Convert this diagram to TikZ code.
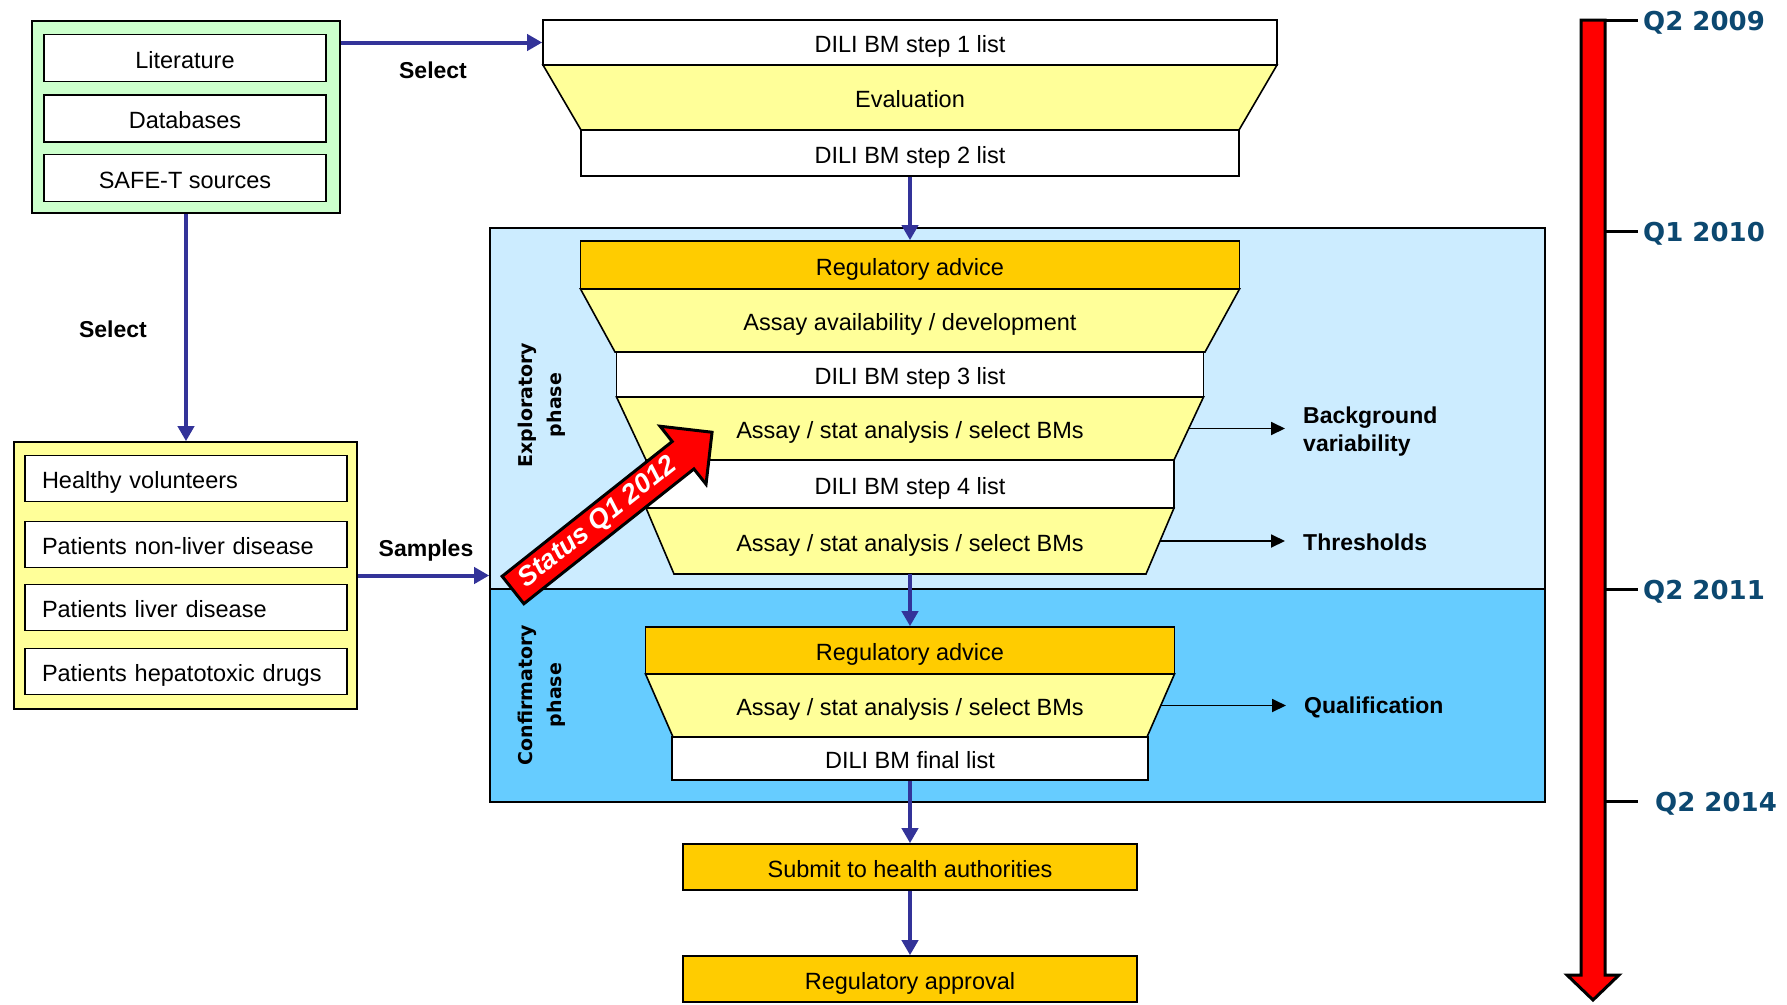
\documentclass[tikz,border=0pt]{standalone}
\usepackage{fontspec}
\setmainfont{Liberation Sans}
\newfontfamily\widesans{DejaVu Sans}
\usepackage{tikz}
\usetikzlibrary{arrows.meta}
\definecolor{mint}{HTML}{CCFFCC}
\definecolor{cream}{HTML}{FFFF99}
\definecolor{amber}{HTML}{FFCC00}
\definecolor{skyfill}{HTML}{CCECFF}
\definecolor{bluefill}{HTML}{66CCFF}
\definecolor{flowblue}{HTML}{333399}
\definecolor{datecol}{RGB}{12,72,112}

% one slice of a funnel, centred on x = 910
\newcommand{\funnelpart}[6]{%
  \draw[slice] ({910-#4},#2) -- ({910+#4},#2) -- ({910+#5},#3) -- ({910-#5},#3) -- cycle;
  \node[txt] (#1) at (910,{(#2+#3)/2}) {#6};
  \coordinate (#1-r) at ({910+(#4+#5)/2},{(#2+#3)/2});
  \coordinate (#1-b) at (910,#3);
}

\begin{document}
\begin{tikzpicture}[x=1pt, y=-1pt,
  txt/.style={text height=20pt, text depth=0pt, font=\fontsize{23.5}{28}\selectfont},
  lbl/.style={inner sep=0pt, font=\fontsize{23}{28}\selectfont\bfseries},
  framebox/.style={draw=black, line width=1.6pt, inner sep=0pt},
  barbox/.style={framebox, txt},
  list/.style={barbox, fill=white},
  advice/.style={barbox, fill=amber},
  slice/.style={draw=black, line width=1.6pt, fill=cream},
  flowarrow/.style={draw=flowblue, line width=4pt, -{Triangle[length=15pt, width=16pt]}},
  sidearrow/.style={draw=black, line width=1.8pt, -{Triangle[length=14pt, width=13pt]}},
  phase/.style={rotate=90, align=center, font=\widesans\fontsize{19}{29}\selectfont\bfseries},
  date/.style={anchor=west, inner sep=0pt, text=datecol, font=\widesans\fontsize{26}{30}\selectfont\bfseries},
]
\useasboundingbox (0,0) rectangle (1787,1004);

% sources
\node[framebox, fill=mint, minimum width=308pt, minimum height=192pt] (sources) at (186,117) {};
\foreach \nm/\y/\txt in {lit/58/Literature, dbs/118.5/Databases, safet/178/SAFE-T sources}
  \node[list, minimum width=282pt, minimum height=47pt] (\nm) at (185,\y) {\txt};

% cohorts
\node[framebox, fill=cream, minimum width=343pt, minimum height=267pt] (cohorts) at (185.5,575.5) {};
\foreach \nm/\y/\txt in {hv/478.5/Healthy volunteers, nonliver/544.5/Patients non-liver disease,
    liver/607.5/Patients liver disease, hepato/671.5/Patients hepatotoxic drugs}
  \node[list, text width=288pt, align=left, inner xsep=17pt, minimum height=46pt] (\nm) at (186,\y) {\txt};

% phase panels
\node[framebox, fill=skyfill, minimum width=1055pt, minimum height=361pt] (explo) at (1017.5,408.5) {};
\node[framebox, fill=bluefill, minimum width=1055pt, minimum height=213pt] (confirm) at (1017.5,695.5) {};
\node[phase] (explolbl) at (542,405) {Exploratory\\phase};
\node[phase] (conflbl) at (542,695) {Confirmatory\\phase};

% first funnel
\node[list, minimum width=734pt, minimum height=45pt] (step1) at (910,42.5) {DILI BM step 1 list};
\funnelpart{evaluation}{65}{130}{367}{329}{Evaluation}
\node[list, minimum width=658pt, minimum height=46pt] (step2) at (910,153) {DILI BM step 2 list};

% exploratory funnel
\node[advice, minimum width=659pt, minimum height=48pt] (advice1) at (910,265) {Regulatory advice};
\funnelpart{avail}{289}{352}{329.5}{295}{Assay availability / development}
\node[list, minimum width=587pt, minimum height=45pt] (step3) at (910,374.5) {DILI BM step 3 list};
\funnelpart{stat1}{397}{460}{293.5}{264}{Assay / stat analysis / select BMs}
\node[list, minimum width=528pt, minimum height=48pt] (step4) at (910,484) {DILI BM step 4 list};
\funnelpart{stat2}{508}{574}{264}{236}{Assay / stat analysis / select BMs}

% confirmatory funnel
\node[advice, minimum width=529pt, minimum height=47pt] (advice2) at (910,650.5) {Regulatory advice};
\funnelpart{stat3}{674}{737}{264.5}{237}{Assay / stat analysis / select BMs}
\node[list, minimum width=476pt, minimum height=43pt] (final) at (910,758.5) {DILI BM final list};

% submission
\node[advice, minimum width=454pt, minimum height=46pt] (submit) at (910,867) {Submit to health authorities};
\node[advice, minimum width=454pt, minimum height=46pt] (approval) at (910,979) {Regulatory approval};

% outcomes
\node[lbl, anchor=west, align=left] (bgvar) at (1303,432) {Background\\variability};
\node[lbl, anchor=west] (thresh) at (1303,542) {Thresholds};
\node[lbl, anchor=west] (qual) at (1304,707) {Qualification};
\draw[sidearrow, shorten >=18pt] (stat1-r) -- (stat1-r -| bgvar.west);
\draw[sidearrow, shorten >=18pt] (stat2-r) -- (stat2-r -| thresh.west);
\draw[sidearrow, shorten >=18pt] (stat3-r) -- (stat3-r -| qual.west);

% flow
\node[lbl] (selA) at (433,70) {Select};
\node[lbl] (selB) at (113,329) {Select};
\node[lbl] (samples) at (426,551) {Samples};
\draw[flowarrow] (sources.east |- step1.west) -- (step1.west);
\draw[flowarrow] (sources.south) -- (sources.south |- cohorts.north);
\draw[flowarrow] (cohorts.east) -- (cohorts.east -| explo.west);
\draw[flowarrow] (step2.south) -- (advice1.north);
\draw[flowarrow] (stat2-b) -- (advice2.north);
\draw[flowarrow] (final.south) -- (submit.north);
\draw[flowarrow] (submit.south) -- (approval.north);

% status
\draw[fill=red, line width=3pt, shift={(513,590)}, rotate=38.4]
  (0,-17.5) -- (217,-17.5) -- (217,-37) -- (254,0) -- (217,37) -- (217,17.5) -- (0,17.5) -- cycle;
\node[rotate=38.4, text=white, font=\fontsize{27}{30}\selectfont\bfseries\itshape] (status) at (598,522.6) {Status Q1 2012};

% timeline
\draw[fill=red, line width=3pt] (1581,20) -- (1605,20) -- (1605,975) -- (1619,975) -- (1593,1000)
  -- (1567,975) -- (1581,975) -- cycle;
\foreach \y/\x/\d in {20/1643/Q2 2009, 231/1643/Q1 2010, 589/1643/Q2 2011, 801/1655/Q2 2014} {
  \draw[line width=3pt] (1605,\y) -- (1638,\y);
  \node[date] (date\y) at (\x,{\y+2.5}) {\d};
}
\end{tikzpicture}
\end{document}
